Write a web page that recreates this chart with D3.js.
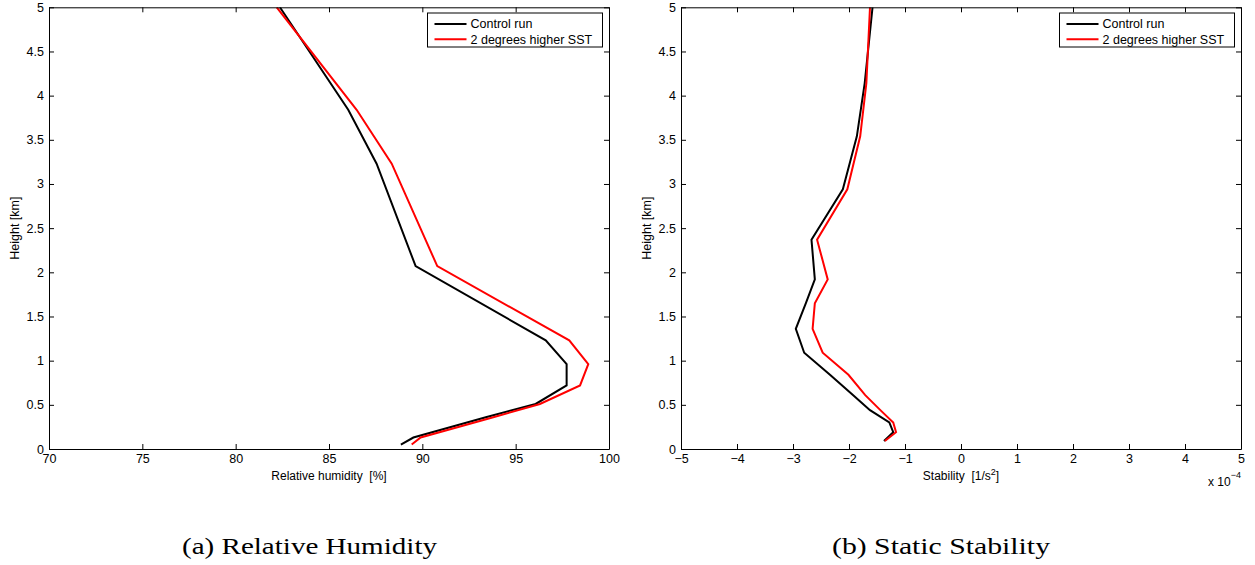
<!DOCTYPE html>
<html>
<head>
<meta charset="utf-8">
<script src="https://cdn.jsdelivr.net/npm/d3@7"></script>
<style>
  html, body { margin: 0; padding: 0; background: #fff; }
  svg text { font-family: "Liberation Sans", Arial, Helvetica, sans-serif; fill: #000; white-space: pre; }
  .caption { font-family: "Liberation Serif", "Times New Roman", serif; }
</style>
</head>
<body>
<svg id="fig" width="1255" height="565"></svg>
<script>
// ---- Relative humidity profiles (%) ----
const rhHeights = [0.05, 0.13, 0.36, 0.51, 0.72, 0.96, 1.23, 2.07, 3.23, 3.84, 5.0];
const rhControl = [88.85, 89.52, 93.4, 96.07, 97.73, 97.73, 96.61, 89.64, 87.55, 86.03, 82.37];
const rhWarm    = [89.43, 89.91, 93.80, 96.30, 98.45, 98.89, 97.87, 90.80, 88.36, 86.48, 82.20];

// ---- Static stability profiles (units of 1e-4 s^-2) ----
const n2Heights = [0.09, 0.19, 0.30, 0.44, 0.61, 0.84, 1.09, 1.36, 1.65, 1.92, 2.37, 2.94, 3.54, 4.14, 5.0];
const n2Control = [-1.375, -1.21, -1.28, -1.625, -1.93, -2.34, -2.80, -2.95, -2.77, -2.61, -2.67, -2.11, -1.86, -1.72, -1.58];
const n2Warm    = [-1.36, -1.16, -1.21, -1.44, -1.71, -2.01, -2.47, -2.65, -2.61, -2.38, -2.57, -2.03, -1.80, -1.69, -1.625];

// ---- Axis ticks and labels ----
const heightTicks = [0, 0.5, 1, 1.5, 2, 2.5, 3, 3.5, 4, 4.5, 5];
const rhTicks = [70, 75, 80, 85, 90, 95, 100];
const n2Ticks = [-5, -4, -3, -2, -1, 0, 1, 2, 3, 4, 5];
const seriesNames = ["Control run", "2 degrees higher SST"];
const seriesColors = ["#000000", "#ff0000"];

const svg = d3.select("#fig");

function heightFmt(v) { return d3.format("")(v); }

function panel(opts) {
  const { left, right, top, bottom, xDomain, xTicks, xFmt, heights, series, xLabel, yLabelX, caption, captionX, legendX, legendW } = opts;
  const x = d3.scaleLinear().domain(xDomain).range([left, right]);
  const y = d3.scaleLinear().domain([0, 5]).range([bottom, top]);
  const g = svg.append("g");

  const clipId = "clip" + Math.round(left);
  g.append("clipPath").attr("id", clipId)
    .append("rect").attr("x", left).attr("y", top).attr("width", right - left).attr("height", bottom - top);

  // profiles
  const line = d3.line().x(d => x(d[0])).y(d => y(d[1]));
  series.forEach((vals, i) => {
    g.append("path")
      .datum(vals.map((v, k) => [v, heights[k]]))
      .attr("clip-path", `url(#${clipId})`)
      .attr("fill", "none")
      .attr("stroke", seriesColors[i])
      .attr("stroke-width", 2)
      .attr("stroke-linejoin", "miter")
      .attr("d", line);
  });

  // axes with inward ticks on all four sides
  const axStyle = sel => {
    sel.selectAll(".domain").attr("stroke", "#000").attr("stroke-width", 1);
    sel.selectAll(".tick line").attr("stroke", "#000").attr("stroke-width", 1);
    sel.selectAll("text").attr("font-size", "12.5px").attr("fill", "#000");
  };
  g.append("g").attr("transform", `translate(0,${bottom})`)
    .call(d3.axisBottom(x).tickValues(xTicks).tickFormat(xFmt).tickSizeInner(-5).tickSizeOuter(0).tickPadding(5))
    .call(axStyle);
  g.append("g").attr("transform", `translate(0,${top})`)
    .call(d3.axisTop(x).tickValues(xTicks).tickFormat("").tickSizeInner(-5).tickSizeOuter(0))
    .call(axStyle);
  g.append("g").attr("transform", `translate(${left},0)`)
    .call(d3.axisLeft(y).tickValues(heightTicks).tickFormat(heightFmt).tickSizeInner(-5).tickSizeOuter(0).tickPadding(5))
    .call(axStyle);
  g.append("g").attr("transform", `translate(${right},0)`)
    .call(d3.axisRight(y).tickValues(heightTicks).tickFormat("").tickSizeInner(-5).tickSizeOuter(0))
    .call(axStyle);

  // axis labels
  const xl = g.append("text")
    .attr("x", (left + right) / 2).attr("y", 480)
    .attr("text-anchor", "middle").attr("font-size", "12px");
  xLabel(xl);

  g.append("text")
    .attr("transform", `translate(${yLabelX},${(top + bottom) / 2}) rotate(-90)`)
    .attr("text-anchor", "middle").attr("dy", "0.35em").attr("font-size", "12.5px")
    .text("Height [km]");

  // legend
  const lg = g.append("g");
  lg.append("rect").attr("x", legendX).attr("y", 13).attr("width", legendW).attr("height", 34)
    .attr("fill", "#fff").attr("stroke", "#000").attr("stroke-width", 1);
  seriesNames.forEach((name, i) => {
    const ry = 24 + i * 15.3;
    lg.append("line").attr("x1", legendX + 7).attr("x2", legendX + 39)
      .attr("y1", ry).attr("y2", ry).attr("stroke", seriesColors[i]).attr("stroke-width", 2);
    lg.append("text").attr("x", legendX + 43).attr("y", ry).attr("dy", "0.35em")
      .attr("font-size", "12.5px").text(name);
  });

  // sub-figure caption
  g.append("text").attr("class", "caption")
    .attr("x", captionX).attr("y", 554)
    .attr("text-anchor", "middle").attr("font-size", "24px")
    .attr("textLength", caption.w).attr("lengthAdjust", "spacingAndGlyphs")
    .text(caption.t);

  return { x, y, g };
}

panel({
  left: 49, right: 609, top: 7.3, bottom: 449,
  xDomain: [70, 100], xTicks: rhTicks, xFmt: d3.format("d"),
  heights: rhHeights, series: [rhControl, rhWarm],
  xLabel: t => t.text("Relative humidity\u00a0\u00a0[%]"),
  yLabelX: 14.5,
  caption: { t: "(a) Relative Humidity", w: 255 }, captionX: 309.5,
  legendX: 427.5, legendW: 175
});

const p2 = panel({
  left: 681, right: 1241, top: 7.3, bottom: 449,
  xDomain: [-5, 5], xTicks: n2Ticks, xFmt: d3.format("d"),
  heights: n2Heights, series: [n2Control, n2Warm],
  xLabel: t => {
    t.append("tspan").text("Stability\u00a0\u00a0[1/s");
    t.append("tspan").attr("font-size", "9px").attr("dy", "-5").text("2");
    t.append("tspan").attr("dy", "5").text("]");
  },
  yLabelX: 646.5,
  caption: { t: "(b) Static Stability", w: 218 }, captionX: 941,
  legendX: 1059.5, legendW: 175
});

// exponent note for the stability axis
const ex = p2.g.append("text").attr("x", 1208).attr("y", 486).attr("font-size", "12px");
ex.append("tspan").text("x 10");
ex.append("tspan").attr("font-size", "9px").attr("dy", "-8").text("\u22124");
</script>
</body>
</html>
